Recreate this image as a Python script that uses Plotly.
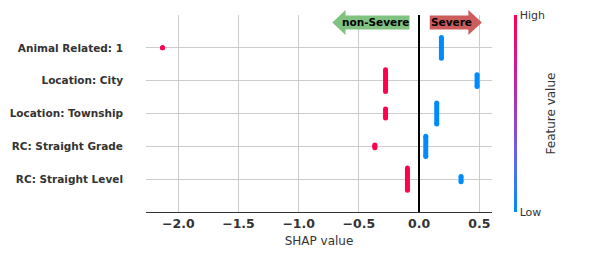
import plotly.graph_objects as go

# ---- data ----
features = ["Animal Related: 1", "Location: City", "Location: Township",
            "RC: Straight Grade", "RC: Straight Level"]
# SHAP value of the cluster of high feature values (red) and low feature values (blue)
shap_high = [-2.131, -0.279, -0.279, -0.368, -0.097]
shap_low = [0.185, 0.481, 0.146, 0.055, 0.348]
# vertical half-height of each beeswarm cluster (row units, reflects point density)
swarm_high = [0.0, 0.33, 0.14, 0.04, 0.34]
swarm_low = [0.315, 0.18, 0.32, 0.31, 0.08]
x_tickvals = [-2.0, -1.5, -1.0, -0.5, 0.0, 0.5]
x_ticktext = ["\u22122.0", "\u22121.5", "\u22121.0", "\u22120.5", "0.0", "0.5"]
class_labels = ["non-Severe", "Severe"]

RED = "#ff0051"
BLUE = "#008bfb"
FONT = "DejaVu Sans"

fig = go.Figure()
n = len(features)
rows = [n - 1 - i for i in range(n)]

for i in range(n):
    r = rows[i]
    for v, s, c in ((shap_high[i], swarm_high[i], RED), (shap_low[i], swarm_low[i], BLUE)):
        fig.add_trace(go.Scatter(
            x=[v, v], y=[r - s, r + s], mode="lines+markers",
            line=dict(color=c, width=5), marker=dict(color=c, size=5),
            showlegend=False, hoverinfo="skip", cliponaxis=False))

# colour bar (dummy trace)
cbar = dict(x=1.064, xanchor="left", xpad=0, ypad=0, y=0.5, len=1,
            thickness=2.5, outlinewidth=0, tickvals=[0, 1],
            ticktext=["Low", "High"], ticks="",
            tickfont=dict(family=FONT, size=11, color="#333"))
fig.add_trace(go.Scatter(
    x=[None, None], y=[None, None], mode="markers", showlegend=False, hoverinfo="skip",
    marker=dict(color=[0, 1], cmin=0, cmax=1, showscale=True,
                colorscale=[[0, BLUE], [0.25, "#5a6cf0"], [0.5, "#9b3cc4"],
                            [0.75, "#d3188e"], [1, RED]],
                colorbar=cbar)))

# class arrows (page is offset by the 8px body margin)
def yp(p):
    return (212 - p) / 197.0

GREEN_F = "#80c280"
RED_F = "#cd5c5c"
cy, bh, hh = 22.5, 7.0, 12.5
g_tip, g_base, g_end = -0.721, -0.611, -0.080
path_g = (f"M {g_tip},{yp(cy)} L {g_base},{yp(cy - hh)} L {g_base},{yp(cy - bh)} "
          f"L {g_end},{yp(cy - bh)} L {g_end},{yp(cy + bh)} L {g_base},{yp(cy + bh)} "
          f"L {g_base},{yp(cy + hh)} Z")
r_start, r_base, r_tip = 0.088, 0.409, 0.521
path_r = (f"M {r_start},{yp(cy - bh)} L {r_base},{yp(cy - bh)} L {r_base},{yp(cy - hh)} "
          f"L {r_tip},{yp(cy)} L {r_base},{yp(cy + hh)} L {r_base},{yp(cy + bh)} "
          f"L {r_start},{yp(cy + bh)} Z")

shapes = [
    dict(type="path", path=path_g, xref="x", yref="paper", fillcolor=GREEN_F,
         line=dict(width=0), layer="above"),
    dict(type="path", path=path_r, xref="x", yref="paper", fillcolor=RED_F,
         line=dict(width=0), layer="above"),
]
annotations = [
    dict(x=-0.36, y=yp(cy), xref="x", yref="paper", text=class_labels[0], showarrow=False,
         xanchor="center", yanchor="middle",
         font=dict(family=FONT, size=10.5, color="black", weight="bold")),
    dict(x=0.265, y=yp(cy), xref="x", yref="paper", text=class_labels[1], showarrow=False,
         xanchor="center", yanchor="middle",
         font=dict(family=FONT, size=10.5, color="black", weight="bold")),
    dict(x=(550 - 146) / 346.0, y=0.5, xref="paper", yref="paper", text="Feature value",
         showarrow=False, textangle=-90, xanchor="center", yanchor="middle",
         font=dict(family=FONT, size=12, color="#333")),
]

fig.update_layout(
    width=582, height=250,
    margin=dict(l=138, r=98, t=7, b=46, autoexpand=False),
    paper_bgcolor="white", plot_bgcolor="white",
    shapes=shapes, annotations=annotations,
    xaxis=dict(range=[-2.268, 0.605], tickvals=x_tickvals, ticktext=x_ticktext,
               showgrid=True, gridcolor="#cccccc", gridwidth=1,
               zeroline=True, zerolinecolor="black", zerolinewidth=2,
               showline=True, linecolor="#333", linewidth=1, ticks="",
               tickfont=dict(family=FONT, size=12.5, color="#333", weight="bold"),
               title=dict(text="SHAP value", font=dict(family=FONT, size=12, color="#333"),
                          standoff=6)),
    yaxis=dict(range=[-1, n], tickvals=rows, ticktext=features,
               showgrid=True, gridcolor="#cccccc", gridwidth=1, zeroline=False,
               showline=False, ticks="", ticklabelstandoff=22,
               tickfont=dict(family=FONT, size=10.5, color="#333", weight="bold")),
)

fig.write_html("out.html")
